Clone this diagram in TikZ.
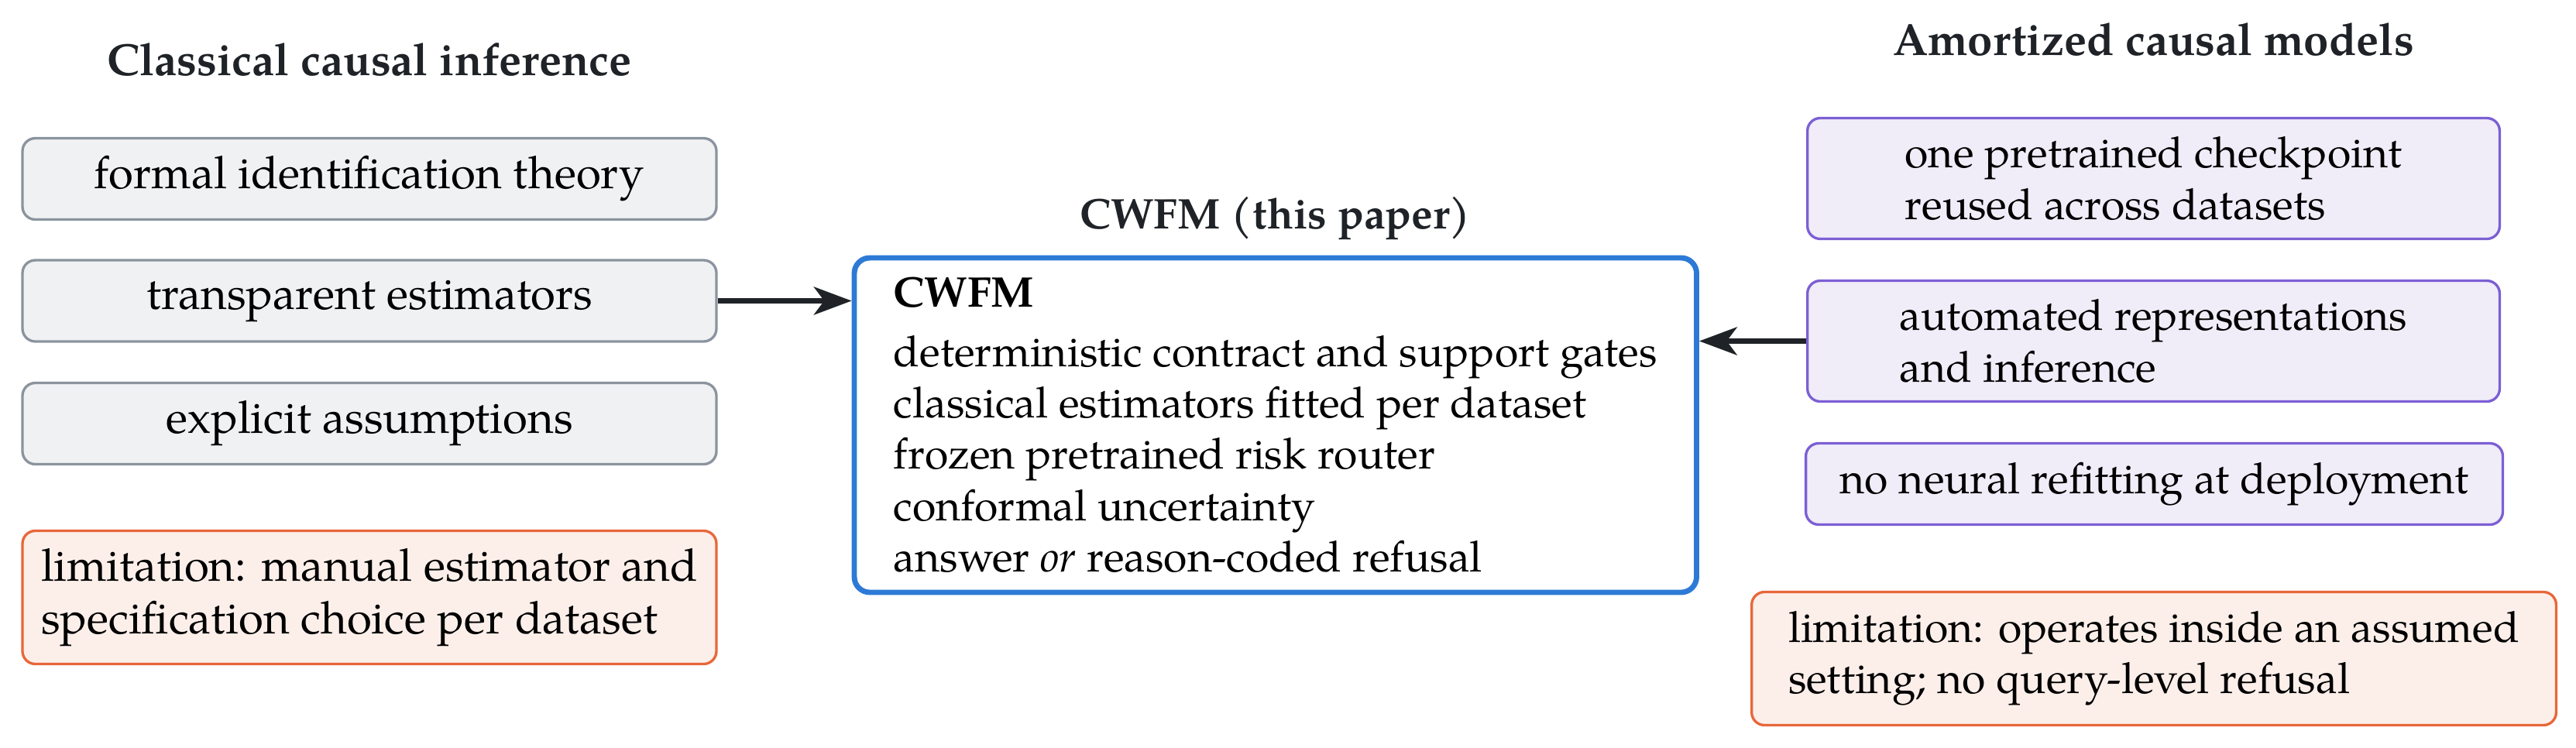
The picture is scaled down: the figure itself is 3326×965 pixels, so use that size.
\documentclass[tikz,border=0pt]{standalone}
\usepackage{fontspec}
\IfFontExistsTF{TeX Gyre Pagella}{\setmainfont{TeX Gyre Pagella}}{\setmainfont{Liberation Serif}}
\usetikzlibrary{arrows.meta}
\definecolor{grayline}{HTML}{8B949E}
\definecolor{grayfill}{HTML}{F0F1F3}
\definecolor{purpleline}{HTML}{7C5FD4}
\definecolor{purplefill}{HTML}{F0EDF9}
\definecolor{orangeline}{HTML}{E8673A}
\definecolor{orangefill}{HTML}{FCEFEA}
\definecolor{blueline}{HTML}{2D7AD6}
\definecolor{titlecol}{HTML}{1F2328}
\begin{document}
\begin{tikzpicture}[x=0.1807pt,y=-0.1807pt,
  font=\fontsize{10}{12}\selectfont,
  box/.style={draw, rounded corners=3pt, line width=0.6pt, inner sep=0pt, align=center, text=black},
  leftfont/.style={font=\fontsize{10.5}{12.4}\selectfont},
  graybox/.style={box, leftfont, draw=grayline, fill=grayfill, minimum width=161.9pt, minimum height=18.97pt},
  purplebox/.style={box, draw=purpleline, fill=purplefill, align=left, minimum width=161.5pt, minimum height=28.19pt},
  limbox/.style={box, draw=orangeline, fill=orangefill, align=left, minimum height=31.08pt},
  cwfmbox/.style={box, draw=blueline, fill=white, line width=1.25pt, rounded corners=3.6pt, align=left, minimum width=196.5pt, minimum height=78.06pt},
  heading/.style={font=\fontsize{10.5}{13}\selectfont\bfseries, text=titlecol, anchor=base, inner sep=0pt},
  conn/.style={draw=titlecol, line width=1.2pt, -{Stealth[length=8.8pt,width=6.5pt,inset=2.4pt]}}
]
\useasboundingbox (0,0) rectangle (3326,965);
% headings
\node[heading] (hc) at (477,97) {Classical causal inference};
\node[heading, font=\fontsize{10}{12}\selectfont\bfseries] (hm) at (1646.75,295) {CWFM (this paper)};
\node[heading] (ha) at (2780.5,71) {Amortized causal models};
% classical column
\node[graybox] (c1) at (477,231) {formal identification theory};
\node[graybox] (c2) at (477,388.5) {transparent estimators};
\node[graybox] (c3) at (477,547) {explicit assumptions};
\node[limbox, leftfont, minimum width=161.9pt] (climit) at (477,771.5) {limitation: manual estimator and\\specification choice per dataset};
% CWFM
\node[cwfmbox] (cwfm) at (1646.75,549) {{\bfseries CWFM}\\[1.8pt]deterministic contract and support gates\\classical estimators fitted per dataset\\frozen pretrained risk router\\conformal uncertainty\\answer \emph{or} reason-coded refusal};
% amortized column
\node[purplebox] (a1) at (2780.5,230.5) {one pretrained checkpoint\\reused across datasets};
\node[purplebox] (a2) at (2780.5,440.5) {automated representations\\and inference};
\node[purplebox, align=center, minimum width=162.6pt, minimum height=18.97pt] (a3) at (2781.5,625) {no neural refitting at deployment};
\node[limbox, minimum width=187.7pt] (alimit) at (2781,850.5) {limitation: operates inside an assumed\\setting; no query-level refusal};
% connectors
\draw[conn] (c2.east) -- (c2.east -| cwfm.west);
\draw[conn] (a2.west) -- (a2.west -| cwfm.east);
\end{tikzpicture}
\end{document}
